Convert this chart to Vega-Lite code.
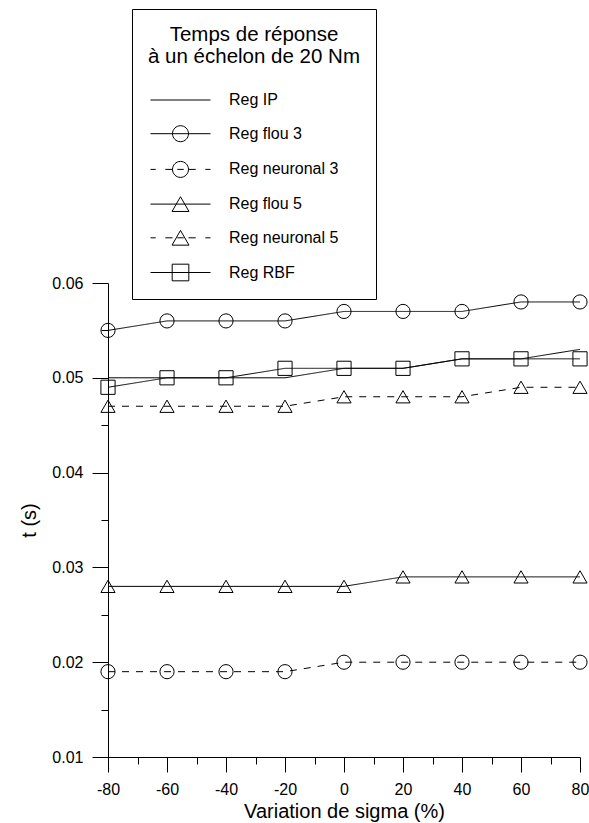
{
  "$schema": "https://vega.github.io/schema/vega-lite/v6.json",
  "autosize": "none",
  "width": 472,
  "height": 474,
  "padding": {"left": 108, "top": 283, "right": 9, "bottom": 66},
  "background": "white",
  "config": {
    "font": "Liberation Sans",
    "view": {"stroke": null},
    "axis": {"grid": false, "domainColor": "black", "tickColor": "black", "labelColor": "black", "titleColor": "black", "labelFont": "Liberation Sans", "titleFont": "Liberation Sans", "titleFontWeight": "normal", "labelFontSize": 16, "titleFontSize": 20, "domainWidth": 1, "tickWidth": 1}
  },
  "data": {"values": [
    {"series": "Reg IP", "sigma": -80, "t": 0.050},
    {"series": "Reg IP", "sigma": -60, "t": 0.050},
    {"series": "Reg IP", "sigma": -40, "t": 0.050},
    {"series": "Reg IP", "sigma": -20, "t": 0.050},
    {"series": "Reg IP", "sigma": 0, "t": 0.051},
    {"series": "Reg IP", "sigma": 20, "t": 0.051},
    {"series": "Reg IP", "sigma": 40, "t": 0.052},
    {"series": "Reg IP", "sigma": 60, "t": 0.052},
    {"series": "Reg IP", "sigma": 80, "t": 0.053},
    {"series": "Reg flou 3", "sigma": -80, "t": 0.055},
    {"series": "Reg flou 3", "sigma": -60, "t": 0.056},
    {"series": "Reg flou 3", "sigma": -40, "t": 0.056},
    {"series": "Reg flou 3", "sigma": -20, "t": 0.056},
    {"series": "Reg flou 3", "sigma": 0, "t": 0.057},
    {"series": "Reg flou 3", "sigma": 20, "t": 0.057},
    {"series": "Reg flou 3", "sigma": 40, "t": 0.057},
    {"series": "Reg flou 3", "sigma": 60, "t": 0.058},
    {"series": "Reg flou 3", "sigma": 80, "t": 0.058},
    {"series": "Reg neuronal 3", "sigma": -80, "t": 0.019},
    {"series": "Reg neuronal 3", "sigma": -60, "t": 0.019},
    {"series": "Reg neuronal 3", "sigma": -40, "t": 0.019},
    {"series": "Reg neuronal 3", "sigma": -20, "t": 0.019},
    {"series": "Reg neuronal 3", "sigma": 0, "t": 0.020},
    {"series": "Reg neuronal 3", "sigma": 20, "t": 0.020},
    {"series": "Reg neuronal 3", "sigma": 40, "t": 0.020},
    {"series": "Reg neuronal 3", "sigma": 60, "t": 0.020},
    {"series": "Reg neuronal 3", "sigma": 80, "t": 0.020},
    {"series": "Reg flou 5", "sigma": -80, "t": 0.028},
    {"series": "Reg flou 5", "sigma": -60, "t": 0.028},
    {"series": "Reg flou 5", "sigma": -40, "t": 0.028},
    {"series": "Reg flou 5", "sigma": -20, "t": 0.028},
    {"series": "Reg flou 5", "sigma": 0, "t": 0.028},
    {"series": "Reg flou 5", "sigma": 20, "t": 0.029},
    {"series": "Reg flou 5", "sigma": 40, "t": 0.029},
    {"series": "Reg flou 5", "sigma": 60, "t": 0.029},
    {"series": "Reg flou 5", "sigma": 80, "t": 0.029},
    {"series": "Reg neuronal 5", "sigma": -80, "t": 0.047},
    {"series": "Reg neuronal 5", "sigma": -60, "t": 0.047},
    {"series": "Reg neuronal 5", "sigma": -40, "t": 0.047},
    {"series": "Reg neuronal 5", "sigma": -20, "t": 0.047},
    {"series": "Reg neuronal 5", "sigma": 0, "t": 0.048},
    {"series": "Reg neuronal 5", "sigma": 20, "t": 0.048},
    {"series": "Reg neuronal 5", "sigma": 40, "t": 0.048},
    {"series": "Reg neuronal 5", "sigma": 60, "t": 0.049},
    {"series": "Reg neuronal 5", "sigma": 80, "t": 0.049},
    {"series": "Reg RBF", "sigma": -80, "t": 0.049},
    {"series": "Reg RBF", "sigma": -60, "t": 0.050},
    {"series": "Reg RBF", "sigma": -40, "t": 0.050},
    {"series": "Reg RBF", "sigma": -20, "t": 0.051},
    {"series": "Reg RBF", "sigma": 0, "t": 0.051},
    {"series": "Reg RBF", "sigma": 20, "t": 0.051},
    {"series": "Reg RBF", "sigma": 40, "t": 0.052},
    {"series": "Reg RBF", "sigma": 60, "t": 0.052},
    {"series": "Reg RBF", "sigma": 80, "t": 0.052}
  ]},
  "resolve": {"axis": {"x": "independent", "y": "independent"}, "scale": {"shape": "independent", "size": "independent"}, "legend": {"shape": "independent", "strokeDash": "independent", "size": "independent"}},
  "layer": [
    {
      "mark": {"type": "line", "color": "black", "strokeWidth": 1},
      "encoding": {
        "x": {"field": "sigma", "type": "quantitative", "scale": {"domain": [-80, 80], "nice": false, "zero": false},
          "axis": {"orient": "bottom", "values": [-80, -60, -40, -20, 0, 20, 40, 60, 80], "labelExpr": "datum.value + ''", "tickSize": 15, "labelPadding": 9, "title": "Variation de sigma (%)", "titlePadding": 4, "labelFlush": false, "labelOverlap": false}},
        "y": {"field": "t", "type": "quantitative", "scale": {"domain": [0.01, 0.06], "nice": false, "zero": false},
          "axis": {"orient": "left", "values": [0.01, 0.02, 0.03, 0.04, 0.05, 0.06], "format": ".2f", "tickSize": 16, "labelPadding": 9, "title": "t (s)", "titlePadding": 12, "labelFlush": false, "labelOverlap": false}},
        "detail": {"field": "series"},
        "strokeDash": {"field": "series", "type": "nominal", "legend": null,
          "scale": {"domain": ["Reg IP", "Reg flou 3", "Reg neuronal 3", "Reg flou 5", "Reg neuronal 5", "Reg RBF"], "range": [[1, 0], [1, 0], [7, 7], [1, 0], [7, 7], [1, 0]]}}
      }
    },
    {
      "transform": [{"filter": "datum.series !== 'Reg IP'"}],
      "mark": {"type": "point", "filled": false, "color": "black", "strokeWidth": 1, "opacity": 1},
      "encoding": {
        "x": {"field": "sigma", "type": "quantitative",
          "axis": {"orient": "bottom", "values": [-70, -50, -30, -10, 10, 30, 50, 70], "tickSize": 7, "labels": false, "domain": false, "title": null}},
        "y": {"field": "t", "type": "quantitative",
          "axis": {"orient": "left", "values": [0.015, 0.025, 0.035, 0.045, 0.055], "tickSize": 7, "labels": false, "domain": false, "title": null}},
        "shape": {"field": "series", "type": "nominal", "legend": null,
          "scale": {"domain": ["Reg flou 3", "Reg neuronal 3", "Reg flou 5", "Reg neuronal 5", "Reg RBF"], "range": ["circle", "circle", "triangle-up", "triangle-up", "square"]}},
        "size": {"field": "series", "type": "nominal", "legend": null,
          "scale": {"domain": ["Reg flou 3", "Reg neuronal 3", "Reg flou 5", "Reg neuronal 5", "Reg RBF"], "range": [201, 201, 289, 289, 279]}}
      }
    },
    {
      "mark": {"type": "point", "filled": false, "color": "black", "opacity": 0, "size": 256},
      "encoding": {
        "x": {"field": "sigma", "type": "quantitative", "axis": null},
        "y": {"field": "t", "type": "quantitative", "axis": null},
        "shape": {"field": "series", "type": "nominal",
          "scale": {"domain": ["Reg IP", "Reg flou 3", "Reg neuronal 3", "Reg flou 5", "Reg neuronal 5", "Reg RBF"],
            "range": [
              "M-3.75,0H3.75",
              "M-3.75,0H3.75M-1,0A1,1,0,1,1,1,0A1,1,0,1,1,-1,0",
              "M-3.75,0H-3.1M-1.9,0H-1M-0.4,0H0.4M1,0H1.9M3.1,0H3.75M-1,0A1,1,0,1,1,1,0A1,1,0,1,1,-1,0",
              "M-3.75,0H3.75M0,-0.92L-1.06,0.92L1.06,0.92Z",
              "M-3.75,0H-3.1M-1.9,0H-1M-0.4,0H0.4M1,0H1.9M3.1,0H3.75M0,-0.92L-1.06,0.92L1.06,0.92Z",
              "M-3.75,0H3.75M-1.04,-1.04H1.04V1.04H-1.04Z"
            ]},
          "legend": {
            "orient": "none", "legendX": 24, "legendY": -274,
            "title": ["Temps de réponse", "à un échelon de 20 Nm"],
            "titleFont": "Liberation Sans", "titleFontSize": 20.5, "titleFontWeight": "normal", "titleColor": "black", "titleLimit": 500,
            "titleAnchor": "middle", "titleAlign": "center", "titleLineHeight": 22, "titlePadding": 24,
            "labelFont": "Liberation Sans", "labelFontSize": 16, "labelColor": "black", "labelLimit": 300,
            "symbolSize": 256, "symbolStrokeColor": "black", "symbolFillColor": "transparent", "symbolStrokeWidth": 1, "symbolOpacity": 1,
            "symbolOffset": 2, "labelOffset": 40, "rowPadding": 14.7,
            "padding": 16, "strokeColor": "black", "fillColor": "white", "cornerRadius": 0
          }
        }
      }
    }
  ]
}
